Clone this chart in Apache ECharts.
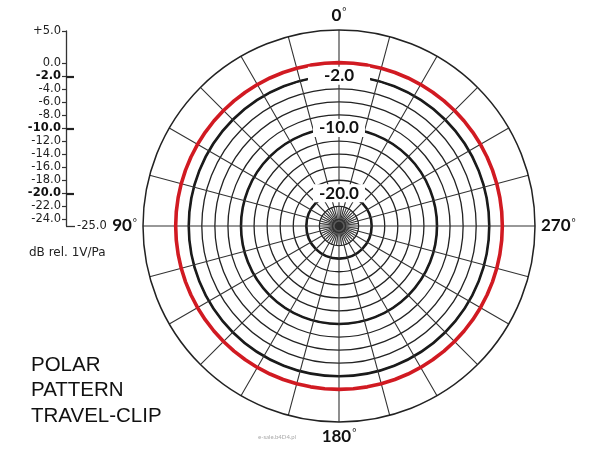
<!DOCTYPE html>
<html><head><meta charset="utf-8">
<script src="https://cdn.jsdelivr.net/npm/echarts@6/dist/echarts.min.js"></script>
<style>html,body{margin:0;padding:0;background:#fff}#c{width:600px;height:450px}</style>
</head><body><div id="c"></div>
<script>
// ---- data ----
const radiusMin = -25, radiusMax = 5;
const gridCircles = [-24, -22, -20, -18, -16, -14, -12, -10, -8, -6, -4, -2];
const boldCircles = [-20, -10, -2];
const ringLabelValues = [-2, -10, -20];
const ringLabelTexts = ['-2.0', '-10.0', '-20.0'];
const angleLabelValues = [0, 90, 180, 270];
const patternAngles = [0,5,10,15,20,25,30,35,40,45,50,55,60,65,70,75,80,85,90,95,100,105,110,115,120,125,130,135,140,145,150,155,160,165,170,175,180,185,190,195,200,205,210,215,220,225,230,235,240,245,250,255,260,265,270,275,280,285,290,295,300,305,310,315,320,325,330,335,340,345,350,355,360];
const patternValues = [0,0,0,0,0,0,0,0,0,0,0,0,0,0,0,0,0,0,0,0,0,0,0,0,0,0,0,0,0,0,0,0,0,0,0,0,0,0,0,0,0,0,0,0,0,0,0,0,0,0,0,0,0,0,0,0,0,0,0,0,0,0,0,0,0,0,0,0,0,0,0,0,0];
const innerSpokeAngles = [7.5,22.5,37.5,52.5,67.5,82.5,97.5,112.5,127.5,142.5,157.5,172.5,187.5,202.5,217.5,232.5,247.5,262.5,277.5,292.5,307.5,322.5,337.5,352.5];
const scaleTicks = [5, 0, -2, -4, -6, -8, -10, -12, -14, -16, -18, -20, -22, -24];
const scaleMajor = [-2, -10, -20];
const scaleEnd = [-25];

// ---- helpers ----
function circleColors(list, col) {
  const arr = [];
  for (let v = radiusMin; v <= radiusMax; v++) arr.push(list.includes(v) ? col : 'rgba(0,0,0,0)');
  return arr;
}
const spokeData = [];
innerSpokeAngles.forEach(a => { spokeData.push([-22, a]); spokeData.push([radiusMin, a]); });

const FONT = 'Lato';
const SCALE_FONT = 'DejaVu Sans';
const chart = echarts.init(document.getElementById('c'), null, {renderer: 'canvas'});
const polarBase = {center: [339, 226], radius: 196};

chart.setOption({
  backgroundColor: '#fff',
  animation: false,
  polar: [Object.assign({}, polarBase), Object.assign({}, polarBase)],
  angleAxis: [{
    polarIndex: 0, type: 'value', min: 0, max: 360, interval: 15,
    startAngle: 90, clockwise: false,
    axisLine: {show: true, lineStyle: {color: '#222', width: 1.5}},
    axisTick: {show: false},
    splitLine: {show: true, lineStyle: {color: '#333', width: 1.1}},
    axisLabel: {
      show: true, margin: 6,
      formatter: v => (angleLabelValues.includes(v) ? '{n|' + v + '}{d|°}' : ''),
      rich: {
        n: {fontSize: 17, fontWeight: 'bold', fontFamily: FONT, color: '#111'},
        d: {fontSize: 10, fontFamily: FONT, color: '#111', verticalAlign: 'top', padding: [0, 0, 0, 1]}
      }
    }
  }, {
    polarIndex: 1, type: 'value', min: 0, max: 360, interval: 15,
    startAngle: 90, clockwise: false,
    axisLine: {show: false}, axisTick: {show: false}, splitLine: {show: false}, axisLabel: {show: false}
  }],
  radiusAxis: [{
    polarIndex: 0, type: 'value', min: radiusMin, max: radiusMax, interval: 1,
    axisLine: {show: false}, axisTick: {show: false}, axisLabel: {show: false},
    splitLine: {show: true, lineStyle: {color: circleColors(gridCircles, '#222'), width: 1.3}}
  }, {
    polarIndex: 1, type: 'value', min: radiusMin, max: radiusMax, interval: 1,
    axisLine: {show: false}, axisTick: {show: false}, axisLabel: {show: false},
    splitLine: {show: true, lineStyle: {color: circleColors(boldCircles, '#1a1a1a'), width: 2.6}}
  }],
  grid: {left: 66, top: 31, height: 195, width: 20},
  xAxis: {type: 'value', show: false},
  yAxis: [{
    type: 'value', min: radiusMin, max: radiusMax, position: 'left',
    axisLine: {show: true, lineStyle: {color: '#333', width: 1.3}},
    axisTick: {show: true, customValues: scaleTicks, length: 4, lineStyle: {color: '#333', width: 1.2}},
    splitLine: {show: false},
    axisLabel: {
      customValues: scaleTicks, margin: 5, fontSize: 11.5, color: '#222', fontFamily: SCALE_FONT,
      formatter: v => {
        const s = v > 0 ? '+' + v.toFixed(1) : (v === 0 ? '0.0' : v.toFixed(1));
        return scaleMajor.includes(v) ? '{b|' + s + '}' : s;
      },
      rich: {b: {fontSize: 11.5, fontWeight: 'bold', color: '#111', fontFamily: SCALE_FONT}}
    }
  }, {
    type: 'value', min: radiusMin, max: radiusMax, position: 'left',
    axisLine: {show: false},
    axisTick: {show: true, inside: true, customValues: scaleMajor, length: 8, lineStyle: {color: '#222', width: 2.2}},
    splitLine: {show: false},
    axisLabel: {show: false}
  }, {
    type: 'value', min: radiusMin, max: radiusMax, position: 'left',
    axisLine: {show: false},
    axisTick: {show: true, inside: true, customValues: scaleEnd, length: 9, lineStyle: {color: '#333', width: 1.3}},
    splitLine: {show: false},
    axisLabel: {show: true, inside: true, customValues: scaleEnd, margin: 11, fontSize: 11.5, color: '#222', fontFamily: SCALE_FONT,
      formatter: v => v.toFixed(1)}
  }],
  series: [{
    type: 'line', coordinateSystem: 'polar', polarIndex: 1,
    data: spokeData, showSymbol: false, symbol: 'none',
    lineStyle: {color: '#333', width: 0.8}, z: 2, silent: true
  }, {
    type: 'line', coordinateSystem: 'polar', polarIndex: 1,
    data: patternValues.map((v, i) => [v, patternAngles[i]]),
    smooth: false, showSymbol: false, symbol: 'none',
    lineStyle: {color: '#d11a22', width: 3.6}, z: 4, silent: true
  }, {
    type: 'scatter', coordinateSystem: 'polar', polarIndex: 1,
    data: [[radiusMin, 0]], symbolSize: 10,
    itemStyle: {color: '#2a2a2a', borderColor: '#666', borderWidth: 1.5}, z: 5, silent: true
  }, {
    type: 'scatter', coordinateSystem: 'polar', polarIndex: 1,
    symbolSize: 0, itemStyle: {color: '#fff', opacity: 1}, z: 10, silent: true,
    data: ringLabelValues.map((v, i) => ({
      value: [v, 0],
      label: {padding: i === 0 ? [1, 16, 0, 16] : [1, 6, 0, 6]}
    })),
    label: {
      show: true, position: 'inside',
      formatter: p => ringLabelTexts[p.dataIndex],
      fontSize: 17, fontWeight: 'bold', fontFamily: FONT, color: '#111', opacity: 1,
      textBorderWidth: 0,
      backgroundColor: '#fff'
    }
  }],
  graphic: [
    {type: 'text', left: 29, top: 247, style: {text: 'dB rel. 1V/Pa', fontSize: 12, fontFamily: SCALE_FONT, fill: '#222'}},
    {type: 'text', left: 31, top: 355, style: {text: 'POLAR', fontSize: 20.5, fontFamily: 'Liberation Sans', fill: '#111'}},
    {type: 'text', left: 31, top: 380, style: {text: 'PATTERN', fontSize: 20.5, fontFamily: 'Liberation Sans', fill: '#111'}},
    {type: 'text', left: 31, top: 406, style: {text: 'TRAVEL-CLIP', fontSize: 20.5, fontFamily: 'Liberation Sans', fill: '#111'}},
    {type: 'text', left: 258, top: 434, style: {text: 'e-sale.b4D4.pl', fontSize: 6, fontFamily: FONT, fill: '#aaa'}}
  ]
});
</script></body></html>
